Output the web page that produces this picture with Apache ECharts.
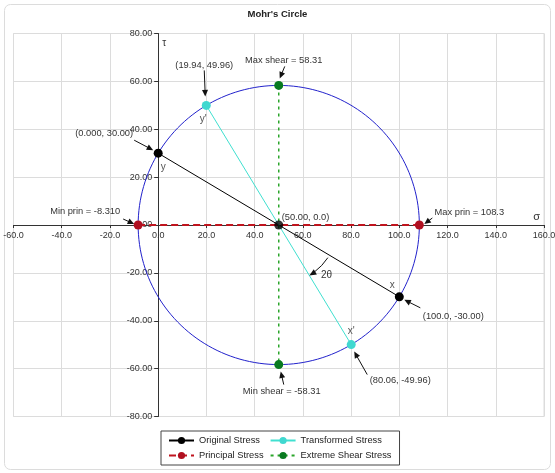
<!DOCTYPE html>
<html>
<head>
<meta charset="utf-8">
<script src="https://cdn.jsdelivr.net/npm/echarts@6/dist/echarts.min.js"></script>
<style>
html,body{margin:0;padding:0;background:#fff;}
#chart{width:555px;height:473px;}
</style>
</head>
<body>
<div id="chart"></div>
<script>
// ---- data ----
var xTicks = { min: -60, max: 160, step: 20 };
var yTicks = { min: -80, max: 80, step: 20 };
var circleCenter = [50, 0];
var circleRadius = 58.31;
var originalStress = [[0, 30], [100, -30]];
var transformedStress = [[19.94, 49.96], [80.06, -49.96]];
var principalStress = [[-8.31, 0], [108.3, 0]];
var extremeShear = [[50, 58.31], [50, -58.31]];
var centerPoint = [[50, 0]];
var annotPoints = [[0, 30], [19.94, 49.96], [50, 58.31], [-8.31, 0], [108.3, 0], [50, 0], [100, -30], [80.06, -49.96], [50, -58.31]];
var annotTexts = ['(0.000, 30.00)', '(19.94, 49.96)', 'Max shear = 58.31', 'Min prin = -8.310', 'Max prin = 108.3', '(50.00, 0.0)', '(100.0, -30.00)', '(80.06, -49.96)', 'Min shear = -58.31'];
var tagPoints = [[0, 30], [100, -30], [19.94, 49.96], [80.06, -49.96]];
var tagTexts = ['y', 'x', "y'", "x'"];
var angleLabel = '2θ';

// ---- layout (pixel offsets, not data) ----
var annotLayout = [
  { tx: -54, ty: -20, a: [-24, -13, -5, -3] },
  { tx: -2, ty: -40, a: [-2, -35, -1, -9] },
  { tx: 5, ty: -25, a: [6, -19, 1, -7] },
  { tx: -53, ty: -14, a: [-15, -6, -4, -1] },
  { tx: 50, ty: -13, a: [13, -7, 5, -1] },
  { tx: 3, ty: -8, align: 'left' },
  { tx: 54, ty: 20, a: [21, 11, 5, 3] },
  { tx: 49, ty: 36, a: [16, 30, 3, 7] },
  { tx: 3, ty: 27, a: [5, 20, 2, 7] }
];
var tagLayout = [[5, 14], [-7, -12], [-3, 14], [0, -13]];
var FONT = '"Liberation Sans", Arial, Helvetica, sans-serif';

var chart = echarts.init(document.getElementById('chart'), null, { renderer: 'canvas' });

function arrowGroup(x1, y1, x2, y2, color) {
  var ang = Math.atan2(y2 - y1, x2 - x1);
  var h = 6.5, w = 3;
  var c = Math.cos(ang), s = Math.sin(ang);
  var bx = x2 - h * c, by = y2 - h * s;
  return [
    { type: 'line', shape: { x1: x1, y1: y1, x2: bx + c, y2: by + s }, style: { stroke: color, lineWidth: 1 } },
    { type: 'polygon', shape: { points: [[x2, y2], [bx - w * s, by + w * c], [bx + w * s, by - w * c]] }, style: { fill: color } }
  ];
}

var option = {
  animation: false,
  textStyle: { fontFamily: FONT },
  graphic: [{
    type: 'rect', z: -10, silent: true,
    shape: { x: 4.5, y: 4.5, width: 546, height: 465, r: 6 },
    style: { fill: '#fff', stroke: '#dcdcdc', lineWidth: 1 }
  }],
  title: {
    text: "Mohr's Circle", left: 'center', top: 9, padding: 0,
    textStyle: { fontSize: 9.5, fontWeight: 'bold', color: '#222', fontFamily: FONT }
  },
  grid: { left: 13.5, right: 11, top: 33.5, bottom: 56.5, show: true, borderColor: '#dcdcdc', borderWidth: 1, containLabel: false, outerBoundsMode: 'none' },
  legend: {
    orient: 'vertical', left: 161, top: 431, height: 28,
    padding: [5, 8, 5, 7], itemGap: 6, itemWidth: 25, itemHeight: 9,
    borderColor: '#444', borderWidth: 1, borderRadius: 0, backgroundColor: '#fff',
    textStyle: { fontSize: 9.3, color: '#222', fontFamily: FONT },
    data: ['Original Stress', 'Principal Stress', 'Transformed Stress', 'Extreme Shear Stress']
  },
  xAxis: {
    type: 'value', min: xTicks.min, max: xTicks.max, interval: xTicks.step,
    name: 'σ', nameLocation: 'end', nameGap: -4,
    nameTextStyle: { align: 'right', verticalAlign: 'bottom', fontSize: 11, color: '#333', padding: [0, 0, 3, 0] },
    axisLine: { onZero: false, lineStyle: { color: '#333', width: 1 } },
    axisTick: { show: true, length: 3, lineStyle: { color: '#333' } },
    axisLabel: { fontSize: 9, color: '#333', margin: 6, showMinLabel: true, showMaxLabel: true, hideOverlap: false, formatter: function (v) { return v.toFixed(1); } },
    splitLine: { show: true, lineStyle: { color: '#dcdcdc', width: 1 } }
  },
  yAxis: {
    type: 'value', min: yTicks.min, max: yTicks.max, interval: yTicks.step,
    name: 'τ', nameLocation: 'end', nameGap: -10,
    nameTextStyle: { align: 'left', verticalAlign: 'middle', fontSize: 10, color: '#333', padding: [0, 0, 0, 4] },
    axisLine: { onZero: false, lineStyle: { color: '#333', width: 1 } },
    axisTick: { show: true, length: 4, lineStyle: { color: '#333' } },
    axisLabel: { fontSize: 9, color: '#333', margin: 6, showMinLabel: true, showMaxLabel: true, hideOverlap: false, formatter: function (v) { return v.toFixed(2); } },
    splitLine: { show: true, lineStyle: { color: '#dcdcdc', width: 1 } }
  },
  series: [
    {
      name: 'Circle', type: 'custom', silent: true, z: 1,
      data: [[circleCenter[0], circleCenter[1], circleRadius]],
      renderItem: function (params, api) {
        var cx = api.value(0), cy = api.value(1), r = api.value(2);
        var pts = [];
        for (var k = 0; k <= 180; k++) {
          var t = k / 180 * Math.PI * 2;
          pts.push(api.coord([cx + r * Math.cos(t), cy + r * Math.sin(t)]));
        }
        return { type: 'polyline', shape: { points: pts }, style: { stroke: '#2222cc', lineWidth: 1, fill: null } };
      }
    },
    {
      name: 'Original Stress', type: 'line', z: 3, data: originalStress,
      symbol: 'circle', symbolSize: 9,
      lineStyle: { color: '#000', width: 1 }, itemStyle: { color: '#000' }
    },
    {
      name: 'Transformed Stress', type: 'line', z: 3, data: transformedStress,
      symbol: 'circle', symbolSize: 9,
      lineStyle: { color: '#40e0d0', width: 1 }, itemStyle: { color: '#40d8d0' }
    },
    {
      name: 'Principal Stress', type: 'line', z: 3, data: principalStress,
      symbol: 'circle', symbolSize: 9,
      lineStyle: { color: '#c0141e', width: 2, type: [7, 4] }, itemStyle: { color: '#b01020' }
    },
    {
      name: 'Extreme Shear Stress', type: 'line', z: 3, data: extremeShear,
      symbol: 'circle', symbolSize: 9,
      lineStyle: { color: '#2aa52a', width: 1.5, type: [3, 4] }, itemStyle: { color: '#087a20' }
    },
    {
      name: 'Center', type: 'scatter', z: 4, data: centerPoint,
      symbol: 'circle', symbolSize: 9, itemStyle: { color: '#000' }
    },
    {
      name: 'Annotations', type: 'custom', silent: true, z: 5, clip: false,
      data: annotPoints.map(function (p, i) { return [p[0], p[1], i]; }),
      renderItem: function (params, api) {
        var i = api.value(2);
        var p = api.coord([api.value(0), api.value(1)]);
        var L = annotLayout[i];
        var children = [{
          type: 'text', x: p[0] + L.tx, y: p[1] + L.ty,
          style: { text: annotTexts[i], fill: '#333', fontSize: 9.3, fontFamily: FONT, align: L.align || 'center', verticalAlign: 'middle' }
        }];
        if (L.a) {
          children = children.concat(arrowGroup(p[0] + L.a[0], p[1] + L.a[1], p[0] + L.a[2], p[1] + L.a[3], '#111'));
        }
        return { type: 'group', children: children };
      }
    },
    {
      name: 'Tags', type: 'custom', silent: true, z: 5, clip: false,
      data: tagPoints.map(function (p, i) { return [p[0], p[1], i]; }),
      renderItem: function (params, api) {
        var i = api.value(2);
        var p = api.coord([api.value(0), api.value(1)]);
        return {
          type: 'text', x: p[0] + tagLayout[i][0], y: p[1] + tagLayout[i][1],
          style: { text: tagTexts[i], fill: '#555', fontSize: 10, fontFamily: FONT, align: 'center', verticalAlign: 'middle' }
        };
      }
    },
    {
      name: 'Angle', type: 'custom', silent: true, z: 5, clip: false,
      data: [[circleCenter[0], circleCenter[1]]],
      renderItem: function (params, api) {
        var c = api.coord([api.value(0), api.value(1)]);
        var po = api.coord(originalStress[1]);
        var pt = api.coord(transformedStress[1]);
        var a1 = Math.atan2(po[1] - c[1], po[0] - c[0]) + 0.05;
        var a2 = Math.atan2(pt[1] - c[1], pt[0] - c[0]);
        var r = 59;
        var h = 7, w = 3;
        var tip = [c[0] + r * Math.cos(a2), c[1] + r * Math.sin(a2)];
        var d = [-Math.sin(a2), Math.cos(a2)];
        var n = [Math.cos(a2), Math.sin(a2)];
        var b = [tip[0] - h * d[0], tip[1] - h * d[1]];
        var aEnd = a2 - (h - 1) / r;
        var mid = (a1 + a2) / 2;
        return {
          type: 'group', children: [
            { type: 'arc', shape: { cx: c[0], cy: c[1], r: r, startAngle: a1, endAngle: aEnd, clockwise: true }, style: { stroke: '#111', lineWidth: 1, fill: null } },
            { type: 'polygon', shape: { points: [tip, [b[0] + w * n[0], b[1] + w * n[1]], [b[0] - w * n[0], b[1] - w * n[1]]] }, style: { fill: '#111' } },
            { type: 'text', x: c[0] + 69 * Math.cos(mid), y: c[1] + 69 * Math.sin(mid), style: { text: angleLabel, fill: '#333', fontSize: 10, fontFamily: FONT, align: 'center', verticalAlign: 'middle' } }
          ]
        };
      }
    }
  ]
};
chart.setOption(option);

// Move the axes so they cross at the origin (line, ticks and labels together)
var leftPx = chart.convertToPixel({ xAxisIndex: 0 }, xTicks.min);
var zeroX = chart.convertToPixel({ xAxisIndex: 0 }, 0);
var bottomPx = chart.convertToPixel({ yAxisIndex: 0 }, yTicks.min);
var zeroY = chart.convertToPixel({ yAxisIndex: 0 }, 0);
chart.setOption({
  yAxis: { offset: -(zeroX - leftPx) },
  xAxis: { offset: -(bottomPx - zeroY) }
});
</script>
</body>
</html>
